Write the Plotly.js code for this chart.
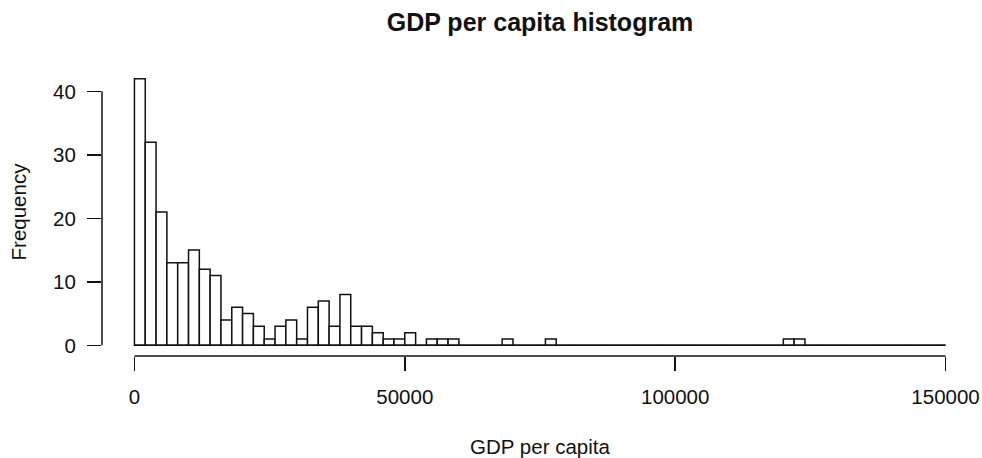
<!DOCTYPE html>
<html>
<head>
<meta charset="utf-8">
<script src="https://cdn.plot.ly/plotly-3.0.1.min.js"></script>
<style>
  html, body { margin: 0; padding: 0; background: #ffffff; }
  #chart { width: 982px; height: 458px; }
</style>
</head>
<body>
<div id="chart"></div>
<script>
// Histogram bins: width 2000, breaks from 0 to 150000
const binWidth = 2000;
const breakMin = 0;
const breakMax = 150000;
// Frequency for each bin [0-2000), [2000-4000), ... [148000-150000)
const counts = [
  42, 32, 21, 13, 13, 15, 12, 11, 4, 6,
  5, 3, 1, 3, 4, 1, 6, 7, 3, 8,
  3, 3, 2, 1, 1, 2, 0, 1, 1, 1,
  0, 0, 0, 0, 1, 0, 0, 0, 1, 0,
  0, 0, 0, 0, 0, 0, 0, 0, 0, 0,
  0, 0, 0, 0, 0, 0, 0, 0, 0, 0,
  1, 1, 0, 0, 0, 0, 0, 0, 0, 0,
  0, 0, 0, 0, 0
];
const xTickVals = [0, 50000, 100000, 150000];
const xTickText = ['0', '50000', '100000', '150000'];
const yTickVals = [0, 10, 20, 30, 40];
const yTickText = ['0', '10', '20', '30', '40'];

const centers = counts.map((c, i) => breakMin + binWidth * i + binWidth / 2);

const FONT = 'Liberation Sans, Arial, sans-serif';
const INK = '#111111';
const FS = 20.5;

const bars = {
  type: 'bar',
  x: centers,
  y: counts,
  width: counts.map(() => binWidth),
  marker: { color: '#ffffff', line: { color: INK, width: 1.5 } },
  hoverinfo: 'x+y',
  showlegend: false
};

// baseline drawn by the zero-count bins in the original
const baseline = {
  type: 'scatter',
  mode: 'lines',
  x: [breakMin, breakMax],
  y: [0, 0],
  line: { color: INK, width: 1.5 },
  hoverinfo: 'skip',
  showlegend: false
};

const xPad = (breakMax - breakMin) * 0.04;
const yMax = Math.max(...counts);
const yPad = yMax * 0.04;

const layout = {
  width: 982,
  height: 458,
  margin: { l: 102, r: 4, t: 68, b: 102 },
  paper_bgcolor: '#ffffff',
  plot_bgcolor: '#ffffff',
  font: { family: FONT, size: FS, color: INK },
  bargap: 0,
  title: {
    text: 'GDP per capita histogram',
    font: { family: FONT, size: 25, weight: 'bold', color: INK },
    x: 0.5, xref: 'paper', xanchor: 'center',
    y: 1 - 22 / 458, yref: 'container', yanchor: 'middle'
  },
  xaxis: {
    range: [breakMin - xPad, breakMax + xPad],
    tickvals: xTickVals,
    ticktext: xTickText,
    ticks: 'outside', ticklen: 14, tickwidth: 1.5, tickcolor: INK,
    ticklabelstandoff: 8,
    showgrid: false, zeroline: false, showline: false,
    tickfont: { family: FONT, size: FS, color: INK },
    title: { text: 'GDP per capita', font: { family: FONT, size: FS, color: INK }, standoff: 33 }
  },
  yaxis: {
    range: [-yPad, yMax + yPad],
    tickvals: yTickVals,
    ticktext: yTickText,
    ticks: 'outside', ticklen: 14, tickwidth: 1.5, tickcolor: INK,
    ticklabelstandoff: 7,
    showgrid: false, zeroline: false, showline: false,
    tickfont: { family: FONT, size: FS, color: INK },
    title: { text: 'Frequency', font: { family: FONT, size: FS, color: INK }, standoff: 20 }
  },
  shapes: [
    { type: 'line', xref: 'x', yref: 'paper', x0: xTickVals[0], x1: xTickVals[xTickVals.length - 1], y0: 0, y1: 0,
      line: { color: INK, width: 1.5 } },
    { type: 'line', xref: 'paper', yref: 'y', x0: 0, x1: 0, y0: yTickVals[0], y1: yTickVals[yTickVals.length - 1],
      line: { color: INK, width: 1.5 } }
  ]
};

Plotly.newPlot('chart', [bars, baseline], layout, { displayModeBar: false, staticPlot: true });
</script>
</body>
</html>
